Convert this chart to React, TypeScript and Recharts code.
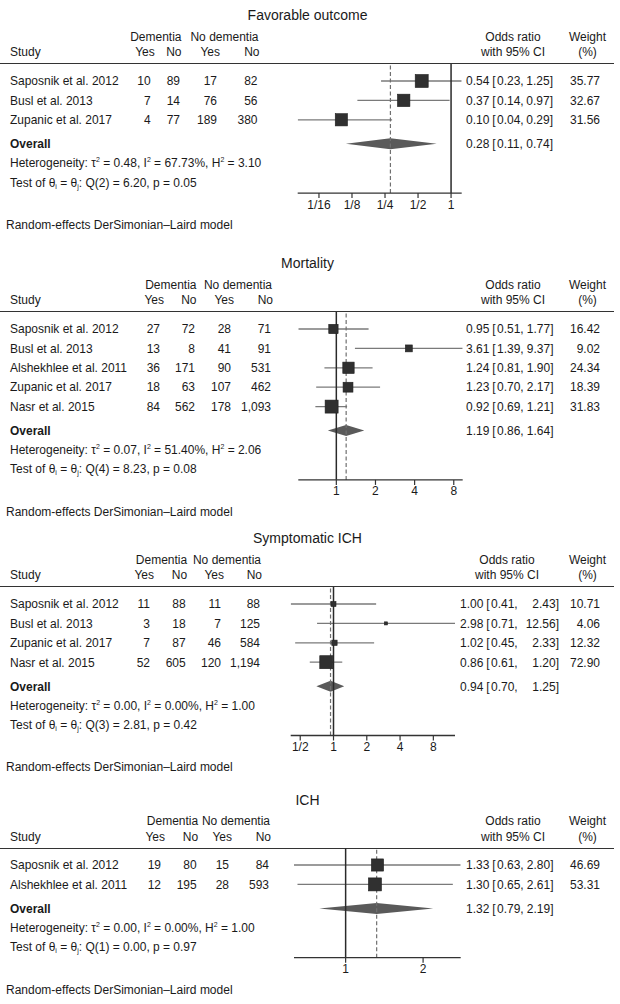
import React from 'react';
import { ComposedChart, XAxis, YAxis, Scatter, ReferenceLine, Area } from 'recharts';

// ---------------- Panel 1: Favorable outcome ----------------
const favStudies = ['Saposnik et al. 2012', 'Busl et al. 2013', 'Zupanic et al. 2017'];
const favDemYes = [10, 7, 4];
const favDemNo = [89, 14, 77];
const favNoDemYes = [17, 76, 189];
const favNoDemNo = [82, 56, 380];
const favOR = [0.54, 0.37, 0.1];
const favLo = [0.23, 0.14, 0.04];
const favHi = [1.25, 0.97, 0.29];
const favWeight = [35.77, 32.67, 31.56];
const favOverall = [0.28, 0.11, 0.74];
const favHet = [0.48, 67.73, 3.1];
const favTest = [2, 6.2, 0.05];
const favTicks = [0.0625, 0.125, 0.25, 0.5, 1];
const favTickLabels = ['1/16', '1/8', '1/4', '1/2', '1'];

// ---------------- Panel 2: Mortality ----------------
const morStudies = ['Saposnik et al. 2012', 'Busl et al. 2013', 'Alshekhlee et al. 2011', 'Zupanic et al. 2017', 'Nasr et al. 2015'];
const morDemYes = [27, 13, 36, 18, 84];
const morDemNo = [72, 8, 171, 63, 562];
const morNoDemYes = [28, 41, 90, 107, 178];
const morNoDemNo = [71, 91, 531, 462, 1093];
const morOR = [0.95, 3.61, 1.24, 1.23, 0.92];
const morLo = [0.51, 1.39, 0.81, 0.7, 0.69];
const morHi = [1.77, 9.37, 1.9, 2.17, 1.21];
const morWeight = [16.42, 9.02, 24.34, 18.39, 31.83];
const morOverall = [1.19, 0.86, 1.64];
const morHet = [0.07, 51.4, 2.06];
const morTest = [4, 8.23, 0.08];
const morTicks = [1, 2, 4, 8];
const morTickLabels = ['1', '2', '4', '8'];

// ---------------- Panel 3: Symptomatic ICH ----------------
const sichStudies = ['Saposnik et al. 2012', 'Busl et al. 2013', 'Zupanic et al. 2017', 'Nasr et al. 2015'];
const sichDemYes = [11, 3, 7, 52];
const sichDemNo = [88, 18, 87, 605];
const sichNoDemYes = [11, 7, 46, 120];
const sichNoDemNo = [88, 125, 584, 1194];
const sichOR = [1.0, 2.98, 1.02, 0.86];
const sichLo = [0.41, 0.71, 0.45, 0.61];
const sichHi = [2.43, 12.56, 2.33, 1.2];
const sichWeight = [10.71, 4.06, 12.32, 72.9];
const sichOverall = [0.94, 0.7, 1.25];
const sichHet = [0.0, 0.0, 1.0];
const sichTest = [3, 2.81, 0.42];
const sichTicks = [0.5, 1, 2, 4, 8];
const sichTickLabels = ['1/2', '1', '2', '4', '8'];

// ---------------- Panel 4: ICH ----------------
const ichStudies = ['Saposnik et al. 2012', 'Alshekhlee et al. 2011'];
const ichDemYes = [19, 12];
const ichDemNo = [80, 195];
const ichNoDemYes = [15, 28];
const ichNoDemNo = [84, 593];
const ichOR = [1.33, 1.3];
const ichLo = [0.63, 0.65];
const ichHi = [2.8, 2.61];
const ichWeight = [46.69, 53.31];
const ichOverall = [1.32, 0.79, 2.19];
const ichHet = [0.0, 0.0, 1.0];
const ichTest = [1, 0.0, 0.97];
const ichTicks = [1, 2];
const ichTickLabels = ['1', '2'];

const FONT = '"Liberation Sans", Arial, Helvetica, sans-serif';
const INK = '#1a1a1a';

type PanelCfg = {
  title: string;
  studies: string[];
  counts: number[][];
  or: number[];
  lo: number[];
  hi: number[];
  weight: number[];
  overall: number[];
  het: number[];
  test: number[];
  ticks: number[];
  tickLabels: string[];
  // layout
  ruleY: number;
  pxL: number;
  pxR: number;
  cols: number[];
  orX: number;
  orW: number;
};

const panels: PanelCfg[] = [
  {
    title: 'Favorable outcome', studies: favStudies,
    counts: [favDemYes, favDemNo, favNoDemYes, favNoDemNo],
    or: favOR, lo: favLo, hi: favHi, weight: favWeight, overall: favOverall,
    het: favHet, test: favTest, ticks: favTicks, tickLabels: favTickLabels,
    ruleY: 63.5, pxL: 297.7, pxR: 461.7, cols: [150.7, 180, 217, 257.5], orX: 466, orW: 87,
  },
  {
    title: 'Mortality', studies: morStudies,
    counts: [morDemYes, morDemNo, morNoDemYes, morNoDemNo],
    or: morOR, lo: morLo, hi: morHi, weight: morWeight, overall: morOverall,
    het: morHet, test: morTest, ticks: morTicks, tickLabels: morTickLabels,
    ruleY: 311.5, pxL: 298.3, pxR: 462.7, cols: [160, 195, 231, 271], orX: 466, orW: 87.5,
  },
  {
    title: 'Symptomatic ICH', studies: sichStudies,
    counts: [sichDemYes, sichDemNo, sichNoDemYes, sichNoDemNo],
    or: sichOR, lo: sichLo, hi: sichHi, weight: sichWeight, overall: sichOverall,
    het: sichHet, test: sichTest, ticks: sichTicks, tickLabels: sichTickLabels,
    ruleY: 586.5, pxL: 290.7, pxR: 455, cols: [150, 185.7, 221, 260], orX: 460, orW: 99,
  },
  {
    title: 'ICH', studies: ichStudies,
    counts: [ichDemYes, ichDemNo, ichNoDemYes, ichNoDemNo],
    or: ichOR, lo: ichLo, hi: ichHi, weight: ichWeight, overall: ichOverall,
    het: ichHet, test: ichTest, ticks: ichTicks, tickLabels: ichTickLabels,
    ruleY: 848.3, pxL: 294, pxR: 460.7, cols: [161, 196.7, 229, 269], orX: 466, orW: 87.5,
  },
];

const ROW0 = 17;
const ROWGAP = 19.4;
const OVGAP = 24;
const TXTGAP = 19.3;
const AXGAP = 10.7;
const XAXIS_H = 30;
const WEIGHT_X = 600;
const DIAMOND_HALF = 5.5;
const SQUARE_MAX = 13;

const f2 = (v: number) => v.toFixed(2);
const fc = (v: number) => v.toLocaleString('en-US');

function HText({ x, y, children, anchor = 'start', size = 12, bold = false }: any) {
  const base: React.CSSProperties = {
    position: 'absolute',
    top: y - size * 0.62,
    fontSize: size,
    lineHeight: `${Math.round(size * 1.2)}px`,
    whiteSpace: 'nowrap',
    fontWeight: bold ? 'bold' : 'normal',
    color: INK,
    fontFamily: FONT,
  };
  if (anchor === 'start') return <div style={{ ...base, left: x }}>{children}</div>;
  if (anchor === 'end') return <div style={{ ...base, right: 620 - x }}>{children}</div>;
  return <div style={{ ...base, left: x - 150, width: 300, textAlign: 'center' }}>{children}</div>;
}

function Panel({ cfg }: { cfg: PanelCfg }) {
  const n = cfg.studies.length;
  const rowY = cfg.studies.map((_, i) => ROW0 + i * ROWGAP);
  const ovY = rowY[n - 1] + OVGAP;
  const hetY = ovY + TXTGAP;
  const testY = hetY + TXTGAP;
  const plotH = testY + AXGAP;
  const chartH = plotH + XAXIS_H;
  const tickVals = [...rowY, ovY, hetY, testY];
  const dMin = Math.min(...cfg.lo, cfg.overall[1]);
  const dMax = Math.max(...cfg.hi, cfg.overall[2]);
  const maxW = Math.max(...cfg.weight);

  const squares = cfg.studies.map((s, i) => ({ x: cfg.or[i], y: rowY[i], w: cfg.weight[i] }));
  const diamond = [
    { x: cfg.overall[1], r: [ovY, ovY] },
    { x: cfg.overall[0], r: [ovY - DIAMOND_HALF, ovY + DIAMOND_HALF] },
    { x: cfg.overall[2], r: [ovY, ovY] },
  ];

  const txt = (x: number, y: number, s: any, anchor: string = 'start', extra: any = {}) => (
    <text x={x} y={y} fontSize={12} fill={INK} fontFamily={FONT} textAnchor={anchor} {...extra}>{s}</text>
  );

  const orText = (y: number, est: number, lo: number, hi: number) => (
    <g>
      {txt(cfg.orX, y, f2(est))}
      {txt(cfg.orX + 26.3, y, '[')}
      {txt(cfg.orX + 31, y, f2(lo) + ',')}
      {txt(cfg.orX + cfg.orW, y, f2(hi) + ']', 'end')}
    </g>
  );

  const renderTick = (props: any) => {
    const v = props.payload ? props.payload.value : 0;
    let idx = 0;
    let best = Infinity;
    tickVals.forEach((t, i) => {
      const d = Math.abs(t - v);
      if (d < best) { best = d; idx = i; }
    });
    const y = props.y + 4.3;
    if (idx < n) {
      return (
        <g>
          {txt(10, y, cfg.studies[idx])}
          {cfg.counts.map((c, k) => <g key={k}>{txt(cfg.cols[k], y, fc(c[idx]), 'end')}</g>)}
          {orText(y, cfg.or[idx], cfg.lo[idx], cfg.hi[idx])}
          {txt(WEIGHT_X, y, f2(cfg.weight[idx]), 'end')}
        </g>
      );
    }
    if (idx === n) {
      return (
        <g>
          {txt(10, y, 'Overall', 'start', { fontWeight: 'bold' })}
          {orText(y, cfg.overall[0], cfg.overall[1], cfg.overall[2])}
        </g>
      );
    }
    if (idx === n + 1) {
      return (
        <text x={10} y={y} fontSize={12} fill={INK} fontFamily={FONT}>
          Heterogeneity: τ<tspan dy={-5} fontSize={7}>2</tspan>
          <tspan dy={5}>{` = ${f2(cfg.het[0])}, I`}</tspan>
          <tspan dy={-5} fontSize={7}>2</tspan>
          <tspan dy={5}>{` = ${f2(cfg.het[1])}%, H`}</tspan>
          <tspan dy={-5} fontSize={7}>2</tspan>
          <tspan dy={5}>{` = ${f2(cfg.het[2])}`}</tspan>
        </text>
      );
    }
    return (
      <text x={10} y={y} fontSize={12} fill={INK} fontFamily={FONT}>
        Test of θ<tspan dy={2} fontSize={7}>i</tspan>
        <tspan dy={-2}> = θ</tspan>
        <tspan dy={2} fontSize={7}>j</tspan>
        <tspan dy={-2}>{`: Q(${cfg.test[0]}) = ${f2(cfg.test[1])}, p = ${f2(cfg.test[2])}`}</tspan>
      </text>
    );
  };

  const top = cfg.ruleY;
  const axisY = top + plotH;
  const c = cfg.cols;
  const h1 = top - 26.5;
  const h2 = top - 10.8;

  return (
    <>
      <HText x={307.5} y={top - 47.5} anchor="middle" size={14}>{cfg.title}</HText>
      <HText x={c[1] + 1.5} y={h1} anchor="end">Dementia</HText>
      <HText x={c[3] + 1} y={h1} anchor="end">No dementia</HText>
      <HText x={10} y={h2}>Study</HText>
      <HText x={c[0] + 4} y={h2} anchor="end">Yes</HText>
      <HText x={c[1] + 1.5} y={h2} anchor="end">No</HText>
      <HText x={c[2] + 3} y={h2} anchor="end">Yes</HText>
      <HText x={c[3] + 2} y={h2} anchor="end">No</HText>
      <HText x={cfg.orX + 47} y={h1} anchor="middle">Odds ratio</HText>
      <HText x={cfg.orX + 47} y={h2} anchor="middle">with 95% CI</HText>
      <HText x={587.5} y={h1} anchor="middle">Weight</HText>
      <HText x={587.5} y={h2} anchor="middle">(%)</HText>
      <div style={{ position: 'absolute', left: 0, top: top - 0.75, width: 614, height: 1.5, background: '#333' }} />
      <div style={{ position: 'absolute', left: 0, top: top, width: 620, height: chartH }}>
        <ComposedChart width={620} height={chartH} margin={{ top: 0, right: 620 - cfg.pxR, bottom: 0, left: 0 }}>
          <XAxis
            dataKey="x"
            type="number"
            scale="log"
            domain={[dMin, dMax]}
            allowDataOverflow
            ticks={cfg.ticks}
            interval={0}
            tickFormatter={(v: number) => {
              const k = cfg.ticks.findIndex((t) => Math.abs(t - v) < 1e-9);
              return k >= 0 ? cfg.tickLabels[k] : String(v);
            }}
            height={XAXIS_H}
            tickSize={5}
            tickMargin={2}
            axisLine={{ stroke: '#333', strokeWidth: 1.3 }}
            tickLine={{ stroke: '#333', strokeWidth: 1.2 }}
            tick={{ fontSize: 12, fill: INK, fontFamily: FONT }}
          />
          <YAxis
            dataKey="y"
            type="number"
            domain={[0, plotH]}
            allowDataOverflow
            reversed
            width={cfg.pxL}
            ticks={tickVals}
            interval={0}
            axisLine={false}
            tickLine={false}
            tick={renderTick}
          />
          {cfg.studies.map((s, i) => (
            <ReferenceLine
              key={s}
              segment={[{ x: cfg.lo[i], y: rowY[i] }, { x: cfg.hi[i], y: rowY[i] }]}
              stroke="#7a7a7a"
              strokeWidth={1.3}
              ifOverflow="hidden"
            />
          ))}
          <ReferenceLine x={1} stroke="#2a2a2a" strokeWidth={1.5} />
          <ReferenceLine x={cfg.overall[0]} stroke="#707070" strokeWidth={1.2} strokeDasharray="4 2.5" />
          <Area
            data={diamond}
            dataKey="r"
            type="linear"
            fill="#5a5a5a"
            fillOpacity={1}
            stroke="none"
            isAnimationActive={false}
            activeDot={false}
            dot={false}
          />
          <Scatter
            data={squares}
            isAnimationActive={false}
            shape={(p: any) => {
              const side = SQUARE_MAX * Math.sqrt(p.payload.w / maxW);
              return (
                <rect
                  x={p.cx - side / 2}
                  y={p.cy - side / 2}
                  width={side}
                  height={side}
                  fill="#303030"
                  stroke="#1e1e1e"
                  strokeWidth={0.6}
                />
              );
            }}
          />
        </ComposedChart>
      </div>
      <HText x={6} y={axisY + 32.7}>Random-effects DerSimonian–Laird model</HText>
    </>
  );
}

export default function App() {
  return (
    <div
      style={{
        position: 'absolute', left: 0, top: 0, width: 620, height: 1004,
        background: '#fff', fontFamily: FONT, color: INK, overflow: 'hidden',
      }}
    >
      {panels.map((p) => <Panel key={p.title} cfg={p} />)}
    </div>
  );
}
